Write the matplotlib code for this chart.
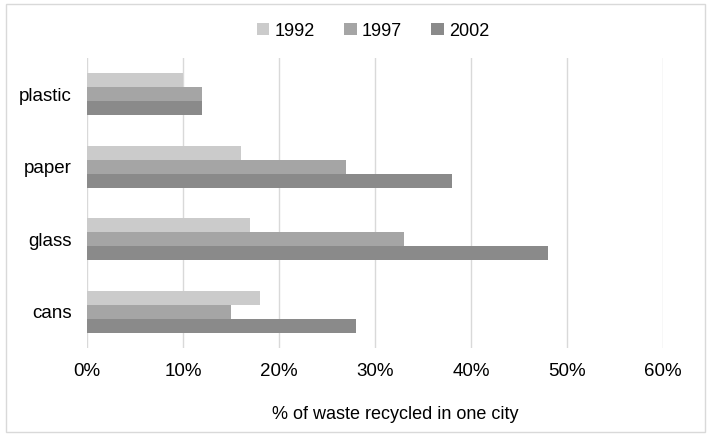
import numpy as np
import matplotlib.pyplot as plt
from matplotlib.patches import Rectangle

# data (percent recycled)
categories = ['plastic', 'paper', 'glass', 'cans']
years = ['1992', '1997', '2002']
v1992 = [10, 16, 17, 18]
v1997 = [12, 27, 33, 15]
v2002 = [12, 38, 48, 28]
tick_vals = [0, 10, 20, 30, 40, 50, 60]

colors = ['#CBCBCB', '#A5A5A5', '#8A8A8A']

plt.rcParams['font.family'] = ['Liberation Sans', 'DejaVu Sans']

fig = plt.figure(figsize=(7.09, 4.36), dpi=100)
ax = fig.add_axes([87/709, 1 - 348/436, (663 - 87)/709, (348 - 58)/436])

y = np.arange(len(categories))
h = 0.193
series = [v1992, v1997, v2002]
for i, (vals, yr) in enumerate(zip(series, years)):
    ax.barh(y + (i - 1) * h, vals, height=h, color=colors[i], label=yr, zorder=2)

ax.set_ylim(len(categories) - 0.5, -0.5)
ax.set_xlim(0, 60)
ax.set_yticks(y)
ax.set_yticklabels(categories, fontsize=13.5)
ax.set_xticks(tick_vals)
ax.set_xticklabels([f'{t}%' for t in tick_vals], fontsize=13.5)
ax.tick_params(length=0)
ax.tick_params(axis='x', pad=11)
ax.tick_params(axis='y', pad=11)
ax.grid(axis='x', color='#D9D9D9', linewidth=1, zorder=0)
for s in ax.spines.values():
    s.set_visible(False)

ax.set_xlabel('% of waste recycled in one city', fontsize=13)
ax.xaxis.set_label_coords(0.536, -0.2)

fig.legend(loc='center', bbox_to_anchor=(373/709, 1 - 31/436), ncol=3, frameon=False,
           fontsize=13, handlelength=0.7, handleheight=0.7, handletextpad=0.3,
           columnspacing=1.6)

# outer chart frame
fig.patches.append(Rectangle((6/709, 1 - 432/436), (705 - 6)/709, (432 - 4)/436,
                             transform=fig.transFigure, fill=False,
                             edgecolor='#D9D9D9', linewidth=1))

fig.savefig('out.png', dpi=100)
